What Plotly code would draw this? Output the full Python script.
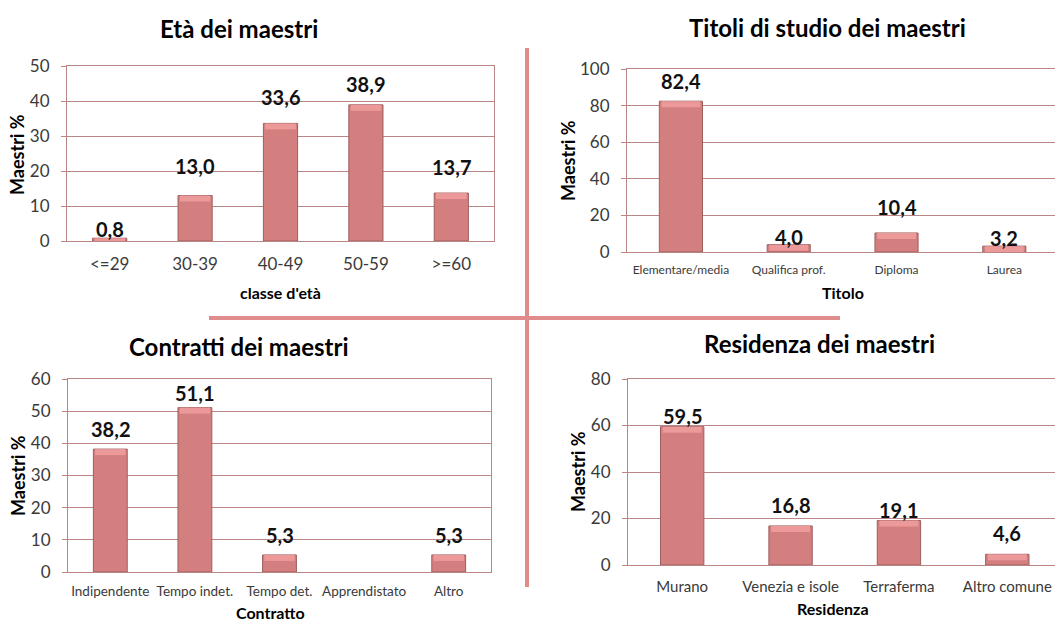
import plotly.graph_objects as go

W, H = 1055, 623

# ---- data ----
eta_cat = ["<=29", "30-39", "40-49", "50-59", ">=60"]
eta_val = [0.8, 13.0, 33.6, 38.9, 13.7]

titoli_cat = ["Elementare/media", "Qualifica prof.", "Diploma", "Laurea"]
titoli_val = [82.4, 4.0, 10.4, 3.2]

contratti_cat = ["Indipendente", "Tempo indet.", "Tempo det.", "Apprendistato", "Altro"]
contratti_val = [38.2, 51.1, 5.3, None, 5.3]

residenza_cat = ["Murano", "Venezia e isole", "Terraferma", "Altro comune"]
residenza_val = [59.5, 16.8, 19.1, 4.6]

# ---- styling ----
FONT = "Lato"
BAR = "#d47f7f"
BAR_TOP = "#ec9999"
BAR_EDGE = "#9e5e5e"
GRID = "#b98585"
DIVIDER = "#e08c8c"


def px(x):
    return x / W


def py(y):
    return 1 - y / H


# panel layout: plot box in pixels, axis ranges, fonts, label offsets
panels = [
    dict(cat=eta_cat, val=eta_val, title="Età dei maestri", xt="classe d'età",
         box=(67, 66, 494, 241), ymax=50, dtick=10, xr=(-0.5, 4.5),
         tick_font=17, tick_gap=8,
         title_pos=(239, 29), xt_pos=(280, 293), yt_pos=(17, 155),
         lab_off=[9, 30, 26, 21, 26]),
    dict(cat=titoli_cat, val=titoli_val, title="Titoli di studio dei maestri", xt="Titolo",
         box=(627, 69, W, 252), ymax=100, dtick=20, xr=(-0.5, 3.47),
         tick_font=12, tick_gap=7,
         title_pos=(827, 27), xt_pos=(843, 293), yt_pos=(568, 161),
         lab_off=[20, 8, 26, 8]),
    dict(cat=contratti_cat, val=contratti_val, title="Contratti dei maestri", xt="Contratto",
         box=(68, 379, 491, 572), ymax=60, dtick=10, xr=(-0.5, 4.5),
         tick_font=13.5, tick_gap=7,
         title_pos=(239, 346), xt_pos=(270, 612), yt_pos=(18, 476),
         lab_off=[20, 15, 20, 0, 20]),
    dict(cat=residenza_cat, val=residenza_val, title="Residenza dei maestri", xt="Residenza",
         box=(628, 379, W, 565), ymax=80, dtick=20, xr=(-0.5, 3.44),
         tick_font=15, tick_gap=8,
         title_pos=(819, 343), xt_pos=(833, 608), yt_pos=(578, 472),
         lab_off=[11, 21, 11, 21]),
]

fig = go.Figure()
annotations = []
layout_axes = {}

for i, p in enumerate(panels, start=1):
    xa = "x" if i == 1 else f"x{i}"
    ya = "y" if i == 1 else f"y{i}"
    x0, y0, x1, y1 = p["box"]
    units_per_px = p["ymax"] / (y1 - y0)
    cap = 6 * units_per_px

    # main bar body
    fig.add_trace(go.Bar(
        x=p["cat"], y=p["val"], xaxis=xa, yaxis=ya, width=0.4,
        marker=dict(color=BAR, line=dict(color=BAR_EDGE, width=1)),
        showlegend=False, hoverinfo="x+y",
    ))
    # lighter bevel band at the top of each bar
    caps = [None if v is None else min(cap, v) for v in p["val"]]
    bases = [None if v is None else v - c for v, c in zip(p["val"], caps)]
    fig.add_trace(go.Bar(
        x=p["cat"], y=caps, base=bases, xaxis=xa, yaxis=ya, width=0.36,
        marker=dict(color=BAR_TOP, line=dict(width=0)),
        showlegend=False, hoverinfo="skip",
    ))

    # value labels
    for c, v, off in zip(p["cat"], p["val"], p["lab_off"]):
        if v is None:
            continue
        annotations.append(dict(
            x=c, y=v, xref=xa, yref=ya, text=f"{v:.1f}".replace(".", ","),
            showarrow=False, yanchor="middle", yshift=off,
            font=dict(family=FONT, size=20, color="#111111", weight="bold"),
        ))

    # panel title and axis titles
    tx, ty = p["title_pos"]
    annotations.append(dict(x=px(tx), y=py(ty), xref="paper", yref="paper",
                            text=p["title"], showarrow=False,
                            xanchor="center", yanchor="middle",
                            font=dict(family=FONT, size=24, color="#000000", weight="bold")))
    ax_, ay_ = p["xt_pos"]
    annotations.append(dict(x=px(ax_), y=py(ay_), xref="paper", yref="paper",
                            text=p["xt"], showarrow=False,
                            xanchor="center", yanchor="middle",
                            font=dict(family=FONT, size=16, color="#000000", weight="bold")))
    yx, yy = p["yt_pos"]
    annotations.append(dict(x=px(yx), y=py(yy), xref="paper", yref="paper",
                            text="Maestri %", showarrow=False, textangle=-90,
                            xanchor="center", yanchor="middle",
                            font=dict(family=FONT, size=18, color="#000000", weight="bold")))

    xkey = "xaxis" if i == 1 else f"xaxis{i}"
    ykey = "yaxis" if i == 1 else f"yaxis{i}"
    layout_axes[xkey] = dict(
        domain=[px(x0), px(x1)], anchor=ya, type="category", range=list(p["xr"]),
        showline=True, linecolor=GRID, linewidth=1, mirror=True,
        showgrid=False, ticks="", ticklabelstandoff=p["tick_gap"],
        tickfont=dict(family=FONT, size=p["tick_font"], color="#3a3a3a"),
        automargin=False, fixedrange=True,
    )
    layout_axes[ykey] = dict(
        domain=[py(y1), py(y0)], anchor=xa, range=[0, p["ymax"]], dtick=p["dtick"],
        showline=True, linecolor=GRID, linewidth=1, mirror=True,
        showgrid=True, gridcolor=GRID, gridwidth=1, zeroline=False,
        ticks="outside", ticklen=5, tickcolor=GRID, ticklabelstandoff=8,
        tickfont=dict(family=FONT, size=17, color="#3a3a3a"),
        automargin=False, fixedrange=True,
    )

# quadrant dividers
shapes = [
    dict(type="line", xref="paper", yref="paper",
         x0=px(527), x1=px(527), y0=py(48), y1=py(587),
         line=dict(color=DIVIDER, width=4)),
    dict(type="line", xref="paper", yref="paper",
         x0=px(209), x1=px(840), y0=py(318), y1=py(318),
         line=dict(color=DIVIDER, width=4)),
]

fig.update_layout(
    width=W, height=H, margin=dict(l=0, r=0, t=0, b=0, pad=0),
    paper_bgcolor="white", plot_bgcolor="white",
    barmode="overlay", bargap=0.6,
    annotations=annotations, shapes=shapes,
    font=dict(family=FONT),
    **layout_axes,
)

fig.write_html(
    "out.html",
    config={"displayModeBar": False},
    post_script="document.body.style.margin='0';document.body.style.overflow='hidden';",
)
